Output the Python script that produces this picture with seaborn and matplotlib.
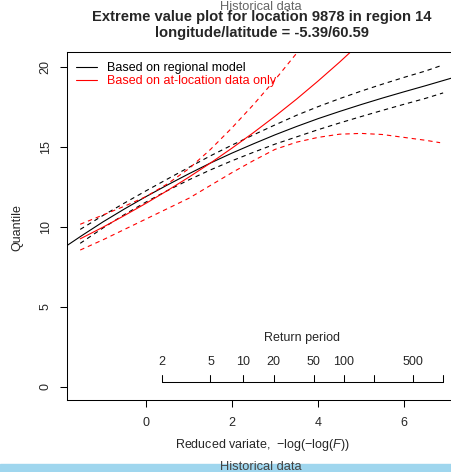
import numpy as np
import pandas as pd
import matplotlib
matplotlib.use("Agg")
import matplotlib.pyplot as plt
import matplotlib.transforms as mtransforms
from matplotlib.patches import Rectangle
import seaborn as sns

# ---------------- data ----------------
# Regional model (black)
reg_x = [-1.86, -1.5, -1.0, -0.5, 0.0, 0.5, 1.0, 1.5, 2.0, 2.5, 3.0, 3.5, 4.0, 4.5, 5.0, 5.5, 6.0, 6.5, 7.2]
reg_q = [8.8, 9.45, 10.32, 11.13, 11.9, 12.63, 13.33, 14.0, 14.62, 15.2, 15.76, 16.28, 16.77, 17.22, 17.65, 18.06, 18.45, 18.83, 19.38]

reg_ci_x = [-1.53, -1.0, -0.5, 0.0, 0.5, 1.0, 1.5, 2.0, 2.5, 3.0, 3.5, 4.0, 4.5, 5.0, 5.5, 6.0, 6.5, 6.91]
reg_upper = [9.85, 10.72, 11.50, 12.26, 13.00, 13.73, 14.45, 15.12, 15.76, 16.38, 16.98, 17.52, 18.02, 18.49, 18.93, 19.35, 19.75, 20.13]
reg_lower = [8.98, 9.94, 10.78, 11.56, 12.28, 12.95, 13.57, 14.14, 14.67, 15.18, 15.63, 16.08, 16.50, 16.90, 17.29, 17.67, 18.04, 18.38]

# At-location data only (red)
loc_x = [-1.53, -1.0, -0.5, 0.0, 0.5, 1.0, 1.5, 2.0, 2.5, 3.0, 3.5, 4.0, 4.5, 5.0]
loc_q = [9.26, 9.99, 10.72, 11.48, 12.28, 13.12, 14.0, 14.93, 15.9, 16.92, 17.99, 19.12, 20.3, 21.54]

loc_up_x = [-1.53, -1.0, -0.5, 0.0, 0.5, 1.0, 1.5, 2.0, 2.5, 3.0, 3.5, 3.7]
loc_upper = [10.17, 10.75, 11.3, 11.9, 12.7, 13.65, 14.85, 16.2, 17.65, 19.2, 20.85, 21.5]

loc_lo_x = [-1.53, -1.0, -0.5, 0.0, 0.5, 1.0, 1.5, 2.0, 2.5, 3.0, 3.5, 4.0, 4.5, 5.0, 5.5, 6.0, 6.5, 6.84]
loc_lower = [8.56, 9.2, 9.85, 10.5, 11.15, 11.8, 12.6, 13.4, 14.15, 14.85, 15.3, 15.6, 15.8, 15.85, 15.78, 15.6, 15.42, 15.27]

x_ticks = [0, 2, 4, 6]
y_ticks = [0, 5, 10, 15, 20]
return_periods = [2, 5, 10, 20, 50, 100, 200, 500, 1000]
rp_labels = ["2", "5", "10", "20", "50", "100", "", "500", ""]

title = "Extreme value plot for location 9878 in region 14\nlongitude/latitude = -5.39/60.59"
legend_labels = ["Based on regional model", "Based on at-location data only"]
watermark = "Historical data"

# ---------------- style ----------------
sns.set_style("white")
plt.rcParams["font.family"] = ["Liberation Sans", "DejaVu Sans"]
plt.rcParams["mathtext.fontset"] = "custom"
plt.rcParams["mathtext.rm"] = "Liberation Sans"
plt.rcParams["mathtext.it"] = "Liberation Sans:italic"

FS = 9
W, H = 451, 472
fig = plt.figure(figsize=(W / 100, H / 100), dpi=100)
ax_left, ax_right, ax_top, ax_bottom = 67, 456, 52, 400
ax = fig.add_axes([ax_left / W, 1 - ax_bottom / H, (ax_right - ax_left) / W, (ax_bottom - ax_top) / H])

LW = 0.8
DASH = (0, (4, 3.5))

sns.lineplot(x=np.array(reg_x), y=np.array(reg_q), color="black", lw=LW, ax=ax, legend=False)
sns.lineplot(x=np.array(reg_ci_x), y=np.array(reg_upper), color="black", lw=LW, linestyle=DASH, ax=ax, legend=False)
sns.lineplot(x=np.array(reg_ci_x), y=np.array(reg_lower), color="black", lw=LW, linestyle=DASH, ax=ax, legend=False)
sns.lineplot(x=np.array(loc_x), y=np.array(loc_q), color="red", lw=LW, ax=ax, legend=False)
sns.lineplot(x=np.array(loc_up_x), y=np.array(loc_upper), color="red", lw=LW, linestyle=DASH, ax=ax, legend=False)
sns.lineplot(x=np.array(loc_lo_x), y=np.array(loc_lower), color="red", lw=LW, linestyle=DASH, ax=ax, legend=False)

ax.set_xlim((ax_left - 146) / 43, (ax_right - 146) / 43)
ax.set_ylim((387 - ax_bottom) / 16, (387 - ax_top) / 16)

# spines / ticks
for s in ["left", "bottom", "top"]:
    ax.spines[s].set_visible(True)
    ax.spines[s].set_linewidth(0.75)
    ax.spines[s].set_color("black")
ax.spines["right"].set_visible(False)
ax.set_xticks(x_ticks)
ax.set_yticks(y_ticks)
ax.set_xticklabels([str(v) for v in x_ticks])
ax.set_yticklabels([str(v) for v in y_ticks])
ax.tick_params(axis="both", direction="out", length=5, width=0.75, labelsize=FS, color="black",
               bottom=True, left=True, top=False, right=False)
ax.tick_params(axis="x", pad=7.5)
ax.tick_params(axis="y", pad=6)
for t in ax.get_yticklabels():
    t.set_rotation(90)
    t.set_va("center")

ax.set_xlabel(r"Reduced variate,  $-\log(-\log(F))$", fontsize=FS, ha="center", va="center")
ax.xaxis.set_label_coords((262 - ax_left) / (ax_right - ax_left), (ax_bottom - 445) / (ax_bottom - ax_top))
ax.set_ylabel("Quantile", fontsize=FS, ha="center", va="center", rotation_mode="default")
ax.yaxis.set_label_coords((17 - ax_left) / (ax_right - ax_left), (ax_bottom - 228) / (ax_bottom - ax_top))

ax.set_title(title, fontsize=10.6, fontweight="bold", pad=11, linespacing=1.15)

# legend
handles = [ax.lines[0], ax.lines[3]]
leg = ax.legend(handles, legend_labels, loc="upper left",
                bbox_to_anchor=((76 - ax_left) / (ax_right - ax_left), (ax_bottom - 62) / (ax_bottom - ax_top)),
                frameon=False, fontsize=FS, handlelength=1.7, handletextpad=0.8, labelspacing=0.12,
                borderpad=0, borderaxespad=0, labelcolor="linecolor")

# return-period axis inside the plot
rp_x = [-np.log(-np.log(1 - 1 / T)) for T in return_periods]
trans = mtransforms.blended_transform_factory(ax.transData, ax.transAxes)
base_y = (ax_bottom - 382) / (ax_bottom - ax_top)
tick_y = (ax_bottom - 375) / (ax_bottom - ax_top)
lab_y = (ax_bottom - 362) / (ax_bottom - ax_top)
head_y = (ax_bottom - 338) / (ax_bottom - ax_top)
ax.plot([rp_x[0], rp_x[-1]], [base_y, base_y], color="black", lw=0.75, transform=trans, clip_on=False)
for xv, lab in zip(rp_x, rp_labels):
    ax.plot([xv, xv], [base_y, tick_y], color="black", lw=0.75, transform=trans, clip_on=False)
    if lab:
        ax.text(xv, lab_y, lab, transform=trans, ha="center", va="center", fontsize=FS)
ax.text((rp_x[0] + rp_x[-1]) / 2, head_y, "Return period", transform=trans, ha="center", va="center", fontsize=FS)

# watermark texts and bottom band
fig.patches.append(Rectangle((0, 0), 1, 8.5 / H, transform=fig.transFigure, color="#9fd6ee", zorder=0))
fig.text(261 / W, 1 - 467 / H, watermark, ha="center", va="center", fontsize=9.3, color="#444444")
fig.text(261 / W, 1 - 7 / H, watermark, ha="center", va="center", fontsize=9.3, color="#666666")

fig.savefig("out.png", dpi=100)
